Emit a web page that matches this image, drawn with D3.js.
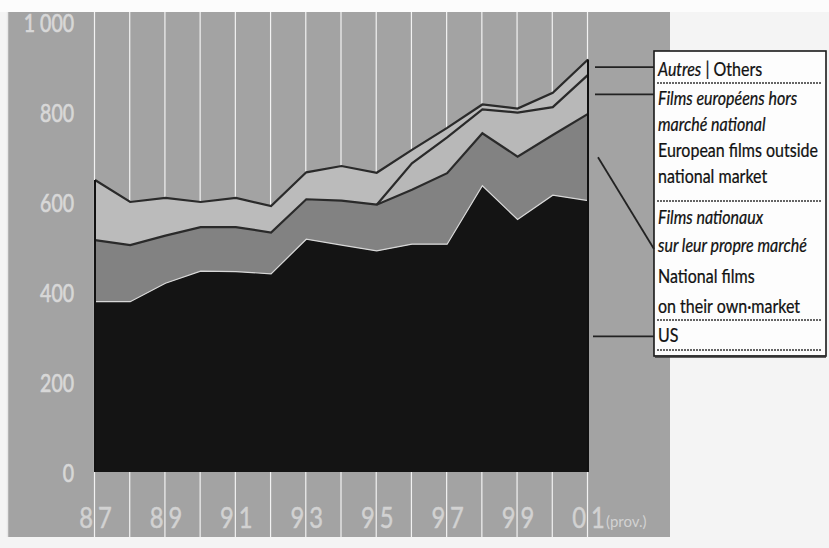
<!DOCTYPE html>
<html>
<head>
<meta charset="utf-8">
<script src="https://cdn.jsdelivr.net/npm/d3@7"></script>
<style>
  body { margin: 0; background: #f4f4f4; }
  svg { display: block; }
  text { font-family: Lato, "Open Sans", sans-serif; }
  .ylab text { font-size: 25px; fill: #d8d8d8; stroke: #d8d8d8; stroke-width: 0.7px; }
  .xlab text { font-size: 29px; fill: #d2d2d2; stroke: #d2d2d2; stroke-width: 0.5px; }
  .legend text { font-size: 19px; fill: #111; stroke: #111; stroke-width: 0.25px; }
</style>
</head>
<body>
<div id="chart"></div>
<script>
// years and series
var years = [1987, 1988, 1989, 1990, 1991, 1992, 1993, 1994, 1995, 1996, 1997, 1998, 1999, 2000, 2001];
var us = [379, 379, 420, 447, 446, 441, 518, 505, 492, 507, 507, 637, 562, 616, 604];
var national = [137, 126, 106, 98, 99, 92, 89, 99, 103, 121, 158, 117, 140, 134, 193];
var european = [0, 0, 0, 0, 0, 0, 0, 0, 0, 59, 80, 53, 98, 62, 87];
var others = [134, 96, 84, 56, 65, 59, 60, 77, 71, 30, 21, 11, 9, 32, 34];

var yTicks = [0, 200, 400, 600, 800, 1000];
var xTicks = [1987, 1989, 1991, 1993, 1995, 1997, 1999, 2001];

var legendLines = [
  [{t: "Autres", i: true}, {t: " | Others", i: false}],
  [{t: "Films européens hors", i: true}],
  [{t: "marché national", i: true}],
  [{t: "European films outside", i: false}],
  [{t: "national market", i: false}],
  [{t: "Films nationaux", i: true}],
  [{t: "sur leur propre marché", i: true}],
  [{t: "National films", i: false}],
  [{t: "on their own·market", i: false}],
  [{t: "US", i: false}]
];
var legendBase = [76, 105, 131, 157, 183, 224, 252, 283, 313, 342];
var legendRules = [83, 201, 320, 350];

var svgWidth = 829;
var svgHeight = 548;

var svg = d3.select("#chart")
  .append("svg")
  .attr("width", svgWidth)
  .attr("height", svgHeight);

// scanned page: white top strip, grey panel
svg.append("rect")
  .attr("x", 0).attr("y", 0)
  .attr("width", svgWidth).attr("height", 12)
  .attr("fill", "#fcfcfc");

svg.append("rect")
  .attr("x", 7).attr("y", 12)
  .attr("width", 663).attr("height", 525)
  .attr("fill", "#a3a3a3");

svg.append("line")
  .attr("x1", 7.5).attr("x2", 7.5)
  .attr("y1", 12).attr("y2", 537)
  .attr("stroke", "#e8e8e8")
  .attr("stroke-width", 1.5);

var x = d3.scaleLinear()
  .domain([1987, 2001])
  .range([95, 588]);

var y = d3.scaleLinear()
  .domain([0, 1000])
  .range([472, 22.7]);

// white year gridlines
svg.append("g")
  .selectAll("line")
  .data(years)
  .enter()
  .append("line")
  .attr("x1", d => x(d) - 0.5)
  .attr("x2", d => x(d) - 0.5)
  .attr("y1", 12)
  .attr("y2", 537)
  .attr("stroke", "#f2f2f2")
  .attr("stroke-width", 1.2);

var table = years.map(function(yr, i) {
  return {year: yr, us: us[i], national: national[i], european: european[i], others: others[i]};
});

var keys = ["us", "national", "european", "others"];
var fills = {us: "#141414", national: "#828282", european: "#b8b8b8", others: "#bbbbbb"};

var series = d3.stack().keys(keys)(table);

var area = d3.area()
  .x(d => x(d.data.year))
  .y0(d => y(d[0]))
  .y1(d => y(d[1]));

var topLine = d3.line()
  .x(d => x(d.data.year))
  .y(d => y(d[1]));

svg.append("g")
  .selectAll("path")
  .data(series)
  .enter()
  .append("path")
  .attr("d", area)
  .attr("fill", d => fills[d.key]);

// edges between bands
svg.append("path")
  .datum(series[0])
  .attr("d", topLine)
  .attr("fill", "none")
  .attr("stroke", "#d8d8d8")
  .attr("stroke-width", 1.2);

svg.append("path")
  .datum(series[1])
  .attr("d", topLine)
  .attr("fill", "none")
  .attr("stroke", "#2a2a2a")
  .attr("stroke-width", 2.2);

// european line only exists from 95 on
svg.append("path")
  .datum(series[2].filter(d => d.data.year >= 1995))
  .attr("d", topLine)
  .attr("fill", "none")
  .attr("stroke", "#2a2a2a")
  .attr("stroke-width", 2.2);

svg.append("path")
  .datum(series[3])
  .attr("d", topLine)
  .attr("fill", "none")
  .attr("stroke", "#2a2a2a")
  .attr("stroke-width", 2.2);

var first = series[3][0];
var last = series[3][years.length - 1];
svg.append("line")
  .attr("x1", x(first.data.year)).attr("x2", x(first.data.year))
  .attr("y1", y(first[1])).attr("y2", y(0))
  .attr("stroke", "#111").attr("stroke-width", 2);
svg.append("line")
  .attr("x1", x(last.data.year)).attr("x2", x(last.data.year))
  .attr("y1", y(last[1])).attr("y2", y(0))
  .attr("stroke", "#111").attr("stroke-width", 2);

// y labels (narrow face in the print, so squeeze a bit)
var leftAxis = d3.axisLeft(y)
  .tickValues(yTicks)
  .tickSize(0)
  .tickPadding(0)
  .tickFormat(d => d === 1000 ? "1 000" : d);

var yAxis = svg.append("g")
  .attr("class", "ylab")
  .attr("transform", "translate(74, 0)")
  .call(leftAxis);
yAxis.select(".domain").remove();
yAxis.selectAll("text")
  .attr("dy", "0.36em")
  .attr("transform", "scale(0.78,1)");

// x labels, split by the gridline
var bottomAxis = d3.axisBottom(x)
  .tickValues(xTicks)
  .tickSize(0)
  .tickPadding(0)
  .tickFormat(d => String(d % 100).padStart(2, "0"));

var xAxis = svg.append("g")
  .attr("class", "xlab")
  .attr("transform", "translate(0, 528)")
  .call(bottomAxis);
xAxis.select(".domain").remove();
xAxis.selectAll("text")
  .attr("y", 0)
  .attr("dy", 0)
  .attr("dx", 3)
  .attr("letter-spacing", "6px")
  .attr("transform", "scale(0.82,1)");

svg.append("text")
  .attr("x", 606)
  .attr("y", 527)
  .attr("font-size", "15px")
  .attr("fill", "#d2d2d2")
  .text("(prov.)");

// legend box
var legend = svg.append("g").attr("class", "legend");

legend.append("rect")
  .attr("x", 654).attr("y", 51)
  .attr("width", 172).attr("height", 305)
  .attr("fill", "#fdfdfd")
  .attr("stroke", "#1a1a1a")
  .attr("stroke-width", 1.6);

legend.append("line")
  .attr("x1", 655).attr("x2", 826)
  .attr("y1", 356.5).attr("y2", 356.5)
  .attr("stroke", "#333")
  .attr("stroke-width", 2.5);

legend.selectAll("line.rule")
  .data(legendRules)
  .enter()
  .append("line")
  .attr("class", "rule")
  .attr("x1", 657).attr("x2", 822)
  .attr("y1", d => d).attr("y2", d => d)
  .attr("stroke", "#333")
  .attr("stroke-width", 1.3)
  .attr("stroke-dasharray", "2,1");

var rows = legend.selectAll("g.row")
  .data(legendLines)
  .enter()
  .append("g")
  .attr("class", "row")
  .attr("transform", (d, i) => `translate(658, ${legendBase[i]})`)
  .append("text");

rows.selectAll("tspan")
  .data(d => d)
  .enter()
  .append("tspan")
  .attr("font-style", d => d.i ? "italic" : "normal")
  .text(d => d.t);

// fit the widest plain line to the printed width (~160px)
var probe = rows.filter((d, i) => i === 3).node().getComputedTextLength();
var sx = Math.min(1, 160 / probe);
rows.attr("transform", `scale(${sx},1)`);

// leader lines from the 2001 band middles to the legend
var lastIdx = years.length - 1;
var mid = function(s) { return y((s[lastIdx][0] + s[lastIdx][1]) / 2); };
var leaders = [
  {x1: x(2001) + 7, y1: mid(series[3]), y2: mid(series[3])},
  {x1: x(2001) + 7, y1: mid(series[2]), y2: mid(series[2])},
  {x1: x(2001) + 10, y1: mid(series[1]), y2: 249},
  {x1: x(2001) + 5, y1: mid(series[0]), y2: mid(series[0])}
];

svg.append("g")
  .selectAll("line")
  .data(leaders)
  .enter()
  .append("line")
  .attr("x1", d => d.x1)
  .attr("y1", d => d.y1)
  .attr("x2", 654)
  .attr("y2", d => d.y2)
  .attr("stroke", "#222")
  .attr("stroke-width", 1.8);
</script>
</body>
</html>
